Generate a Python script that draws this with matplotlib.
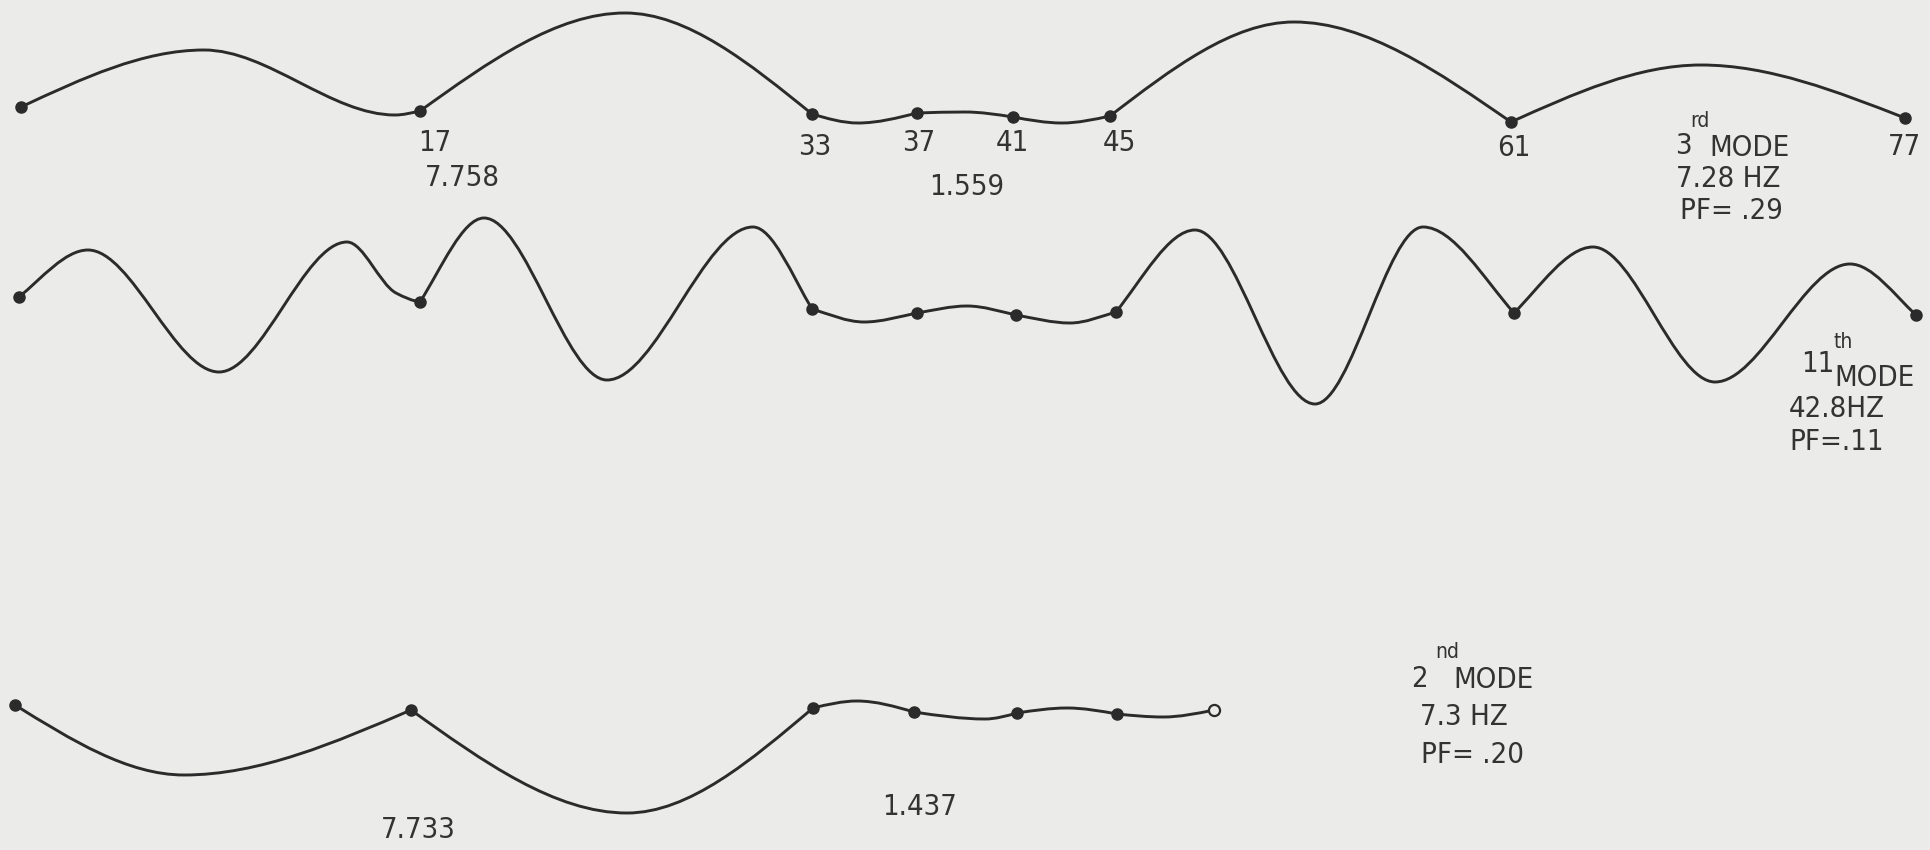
import numpy as np
import matplotlib
matplotlib.use("Agg")
import matplotlib.pyplot as plt
from matplotlib.path import Path
from matplotlib.patches import PathPatch
from matplotlib import font_manager as fm

# ---------------------------------------------------------------------------
# Data (x to the right, y downward,
# in the drawing's own units).  *_nodes are the indices of the marked nodes.
# ---------------------------------------------------------------------------
# 3rd mode, 7.28 Hz
m3_x = [21, 204, 395, 420, 625, 812, 858, 917, 965, 1013, 1062,
        1110, 1294, 1511, 1701, 1905]
m3_y = [107, 50, 115, 111, 13, 114, 123, 113, 112, 117, 123,
        116, 22, 122, 65, 118]
m3_nodes = [0, 3, 5, 7, 9, 11, 13, 15]
m3_node_labels = ["17", "33", "37", "41", "45", "61", "77"]
m3_label_x = [435, 815, 919, 1012, 1119, 1514, 1905]
m3_label_y = [143, 147, 143, 143, 143, 148, 147]
m3_values = ["7.758", "1.559"]
m3_value_x = [462, 967]
m3_value_y = [178, 187]

# 11th mode, 42.8 Hz
m11_x = [19, 88, 219, 347, 396, 420, 484, 607, 753, 812, 864, 917, 967,
         1016, 1070, 1116, 1195, 1315, 1423, 1514, 1593, 1715, 1850, 1916]
m11_y = [297, 250, 372, 242, 293, 302, 218, 380, 227, 309, 322, 313, 306,
         315, 323, 312, 230, 404, 227, 313, 247, 382, 264, 315]
m11_nodes = [0, 5, 9, 11, 13, 15, 19, 23]

# 2nd mode, 7.3 Hz
m2_x = [15, 184, 411, 627, 813, 857, 914, 985, 1017, 1067, 1117, 1163, 1214]
m2_y = [705, 775, 710, 813, 708, 701, 712, 719, 713, 708, 714, 717, 710]
m2_nodes = [0, 2, 4, 6, 8, 10, 12]
m2_open_nodes = [12]
m2_values = ["7.733", "1.437"]
m2_value_x = [418, 920]
m2_value_y = [830, 807]

# Mode captions: (ordinal, superscript, frequency, participation factor)
captions = [
    ("3", "rd", "7.28 HZ", "PF= .29"),
    ("11", "th", "42.8HZ", "PF=.11"),
    ("2", "nd", "7.3 HZ", "PF= .20"),
]

PAPER = "#ebebe9"
INK = "#2b2b2b"
TEXT = "#333333"


def pick_font():
    ttf = fm.fontManager.ttflist
    prefer = ["Liberation Sans Narrow", "DejaVu Sans", "Noto Sans",
              "Roboto", "Open Sans", "Lato", "Inter"]
    cands = [f for f in ttf if f.stretch in ("condensed", "semi-condensed")
             and f.style == "normal" and 300 <= int(f.weight) <= 400
             and "Mono" not in f.name and "Serif" not in f.name
             and "CJK" not in f.name]
    for p in prefer:
        for f in cands:
            if f.name == p:
                return fm.FontProperties(fname=f.fname)
    if cands:
        return fm.FontProperties(fname=cands[0].fname)
    return fm.FontProperties(family="DejaVu Sans")


FONT = pick_font()


def end_slope(h0, h1, d0, d1, clamp):
    s = ((2 * h0 + h1) * d0 - h0 * d1) / (h0 + h1)
    if np.sign(s) != np.sign(d0):
        s = 0.0
    elif abs(s) > clamp * abs(d0):
        s = clamp * d0
    return s


def pchip_slopes(x, y, clamp):
    x = np.asarray(x, float)
    y = np.asarray(y, float)
    n = len(x)
    h = np.diff(x)
    dl = np.diff(y) / h
    if n == 2:
        return np.array([dl[0], dl[0]])
    m = np.zeros(n)
    for k in range(1, n - 1):
        if dl[k - 1] * dl[k] <= 0:
            m[k] = 0.0
        else:
            w1 = 2 * h[k] + h[k - 1]
            w2 = h[k] + 2 * h[k - 1]
            m[k] = (w1 + w2) / (w1 / dl[k - 1] + w2 / dl[k])
    m[0] = end_slope(h[0], h[1], dl[0], dl[1], clamp)
    m[-1] = end_slope(h[-1], h[-2], dl[-1], dl[-2], clamp)
    return m


def mode_path(xs, ys, nodes, clamp):
    verts = [(xs[0], ys[0])]
    codes = [Path.MOVETO]
    for a, b in zip(nodes[:-1], nodes[1:]):
        sx = xs[a:b + 1]
        sy = ys[a:b + 1]
        m = pchip_slopes(sx, sy, clamp)
        for k in range(len(sx) - 1):
            h = sx[k + 1] - sx[k]
            verts += [(sx[k] + h / 3, sy[k] + m[k] * h / 3),
                      (sx[k + 1] - h / 3, sy[k + 1] - m[k + 1] * h / 3),
                      (sx[k + 1], sy[k + 1])]
            codes += [Path.CURVE4] * 3
    return Path(verts, codes)


fig = plt.figure(figsize=(19.31, 8.5), dpi=100, facecolor=PAPER)
ax = fig.add_axes([0, 0, 1, 1])
ax.set_facecolor(PAPER)
ax.set_xlim(0, 1931)
ax.set_ylim(850, 0)
ax.axis("off")

for xs, ys, nodes, clamp in [(m3_x, m3_y, m3_nodes, 1.5),
                             (m11_x, m11_y, m11_nodes, 1.2),
                             (m2_x, m2_y, m2_nodes, 1.5)]:
    ax.add_patch(PathPatch(mode_path(xs, ys, nodes, clamp), fill=False,
                           edgecolor=INK, lw=2.1, capstyle="round",
                           joinstyle="round", zorder=2))
    filled = [i for i in nodes if not (xs is m2_x and i in m2_open_nodes)]
    ax.plot([xs[i] for i in filled], [ys[i] for i in filled], "o",
            ms=8, color=INK, zorder=3)

ax.plot([m2_x[i] for i in m2_open_nodes], [m2_y[i] for i in m2_open_nodes],
        "o", ms=8, mfc=PAPER, mec=INK, mew=1.6, zorder=3)

FS = 21
FS_SUP = 15
kw = dict(fontproperties=FONT, color=TEXT, ha="center", va="center")

for t, x, y in zip(m3_node_labels, m3_label_x, m3_label_y):
    ax.text(x, y, t, fontsize=FS, **kw)
for t, x, y in zip(m3_values, m3_value_x, m3_value_y):
    ax.text(x, y, t, fontsize=FS, **kw)
for t, x, y in zip(m2_values, m2_value_x, m2_value_y):
    ax.text(x, y, t, fontsize=FS, **kw)

# 3rd mode caption
c = captions[0]
ax.text(1683, 146, c[0], fontsize=FS, **kw)
ax.text(1700, 121, c[1], fontsize=FS_SUP, **kw)
ax.text(1750, 148, "MODE", fontsize=FS, **kw)
ax.text(1728, 179, c[2], fontsize=FS, **kw)
ax.text(1731, 211, c[3], fontsize=FS, **kw)

# 11th mode caption
c = captions[1]
ax.text(1818, 364, c[0], fontsize=FS, **kw)
ax.text(1843, 342, c[1], fontsize=FS_SUP, **kw)
ax.text(1875, 378, "MODE", fontsize=FS, **kw)
ax.text(1837, 409, c[2], fontsize=FS, **kw)
ax.text(1837, 442, c[3], fontsize=FS, **kw)

# 2nd mode caption
c = captions[2]
ax.text(1419, 679, c[0], fontsize=FS, **kw)
ax.text(1447, 652, c[1], fontsize=FS_SUP, **kw)
ax.text(1494, 680, "MODE", fontsize=FS, **kw)
ax.text(1464, 717, c[2], fontsize=FS, **kw)
ax.text(1473, 755, c[3], fontsize=FS, **kw)

fig.savefig("out.png", dpi=100, facecolor=PAPER)
